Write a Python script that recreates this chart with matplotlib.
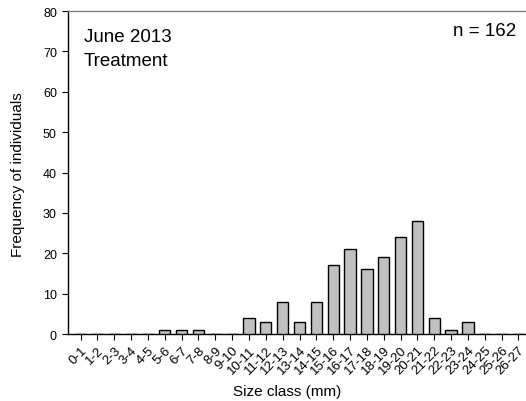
import matplotlib
matplotlib.use("Agg")
import matplotlib.pyplot as plt
import numpy as np

categories = [f"{i}-{i+1}" for i in range(27)]
values = [0, 0, 0, 0, 0, 1, 1, 1, 0, 0, 4, 3, 8, 3, 8, 17, 21, 16, 19, 24, 28, 4, 1, 3, 0, 0, 0]

plt.rcParams['font.family'] = ['Liberation Sans', 'DejaVu Sans']

fig = plt.figure(figsize=(5.26, 4.02), dpi=100)
ax = fig.add_axes([68/526, 1-335/402, 1-68/526, (335-12)/402])
x = np.arange(len(categories))
ax.bar(x, values, width=0.67, color='#c0c0c0', edgecolor='black', linewidth=1.0, zorder=3)
ax.set_xlim(-0.75, 26.45)
ax.set_ylim(0, 80)
ax.set_yticks(range(0, 81, 10))
ax.set_xticks(x)
ax.set_xticklabels(categories, rotation=45, ha='right', rotation_mode='anchor', fontsize=9.5)
ax.tick_params(axis='y', labelsize=9, length=4, width=0.8, direction='out', pad=4)
ax.tick_params(axis='x', length=4, width=0.8, direction='out', pad=3)
ax.spines['right'].set_visible(False)
ax.spines['top'].set_color('#808080')
ax.spines['top'].set_linewidth(1.0)
for s in ['left', 'bottom']:
    ax.spines[s].set_linewidth(1.0)
fig.text(18/526, 1-175/402, 'Frequency of individuals', rotation=90,
         ha='center', va='center', fontsize=11)
fig.text(287/526, 1-392/402, 'Size class (mm)', ha='center', va='center', fontsize=11)
fig.text(84/526, 1-37/402, 'June 2013', ha='left', va='center', fontsize=13.5)
fig.text(84/526, 1-61/402, 'Treatment', ha='left', va='center', fontsize=13.5)
fig.text(516/526, 1-31/402, 'n = 162', ha='right', va='center', fontsize=13.5)
fig.savefig('out.png', dpi=100)
